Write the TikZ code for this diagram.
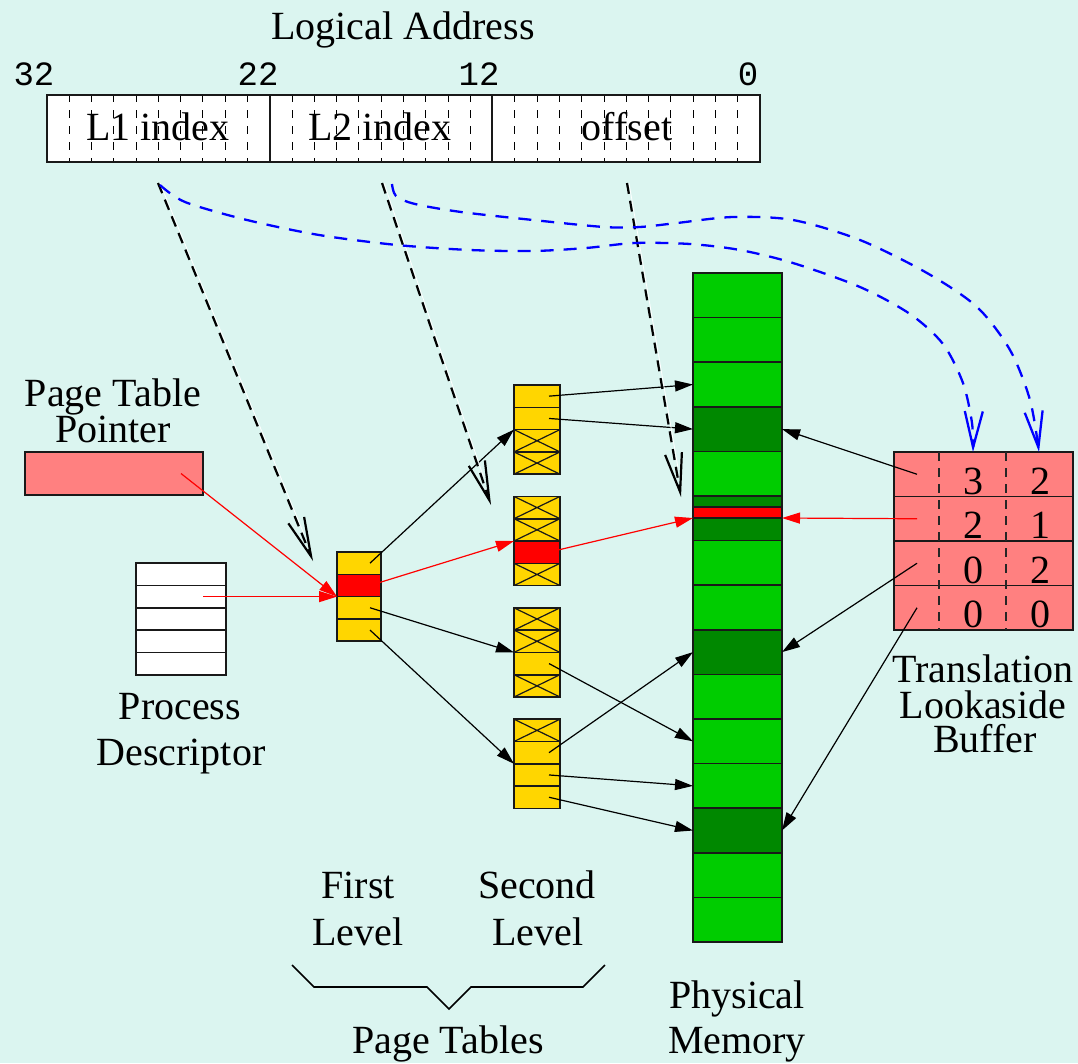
\documentclass[tikz,border=0pt]{standalone}
\usepackage{fontspec}
\setmainfont{Liberation Serif}
\setmonofont{Liberation Mono}
\usetikzlibrary{arrows.meta,calc}
\definecolor{bg}{RGB}{219,245,240}
\definecolor{lgreen}{RGB}{0,204,0}
\definecolor{dgreen}{RGB}{0,136,0}
\definecolor{ylw}{RGB}{255,214,0}
\definecolor{salmon}{RGB}{255,128,128}
\definecolor{bblue}{RGB}{0,0,255}
\begin{document}
\begin{tikzpicture}[x=1pt,y=-1pt,
  cell/.style={draw=black!90, line width=1.6pt, inner sep=0pt, outer sep=0pt, anchor=north west},
  lbl/.style={font=\fontsize{40}{46}\selectfont, inner sep=0pt, anchor=base},
  num/.style={font=\ttfamily\fontsize{34}{40}\selectfont, inner sep=0pt, anchor=base},
  arr/.style={line width=1.2pt, -{Triangle[length=18pt,width=11pt]}},
  darr/.style={line width=2.2pt, dash pattern=on 11pt off 7pt, -{Straight Barb[length=39pt,width=17pt,line width=2.2pt]}},
  shadowline/.style={white, line width=0.8pt, shorten >=30pt},
  barr/.style={bblue, line width=2.3pt, dash pattern=on 13pt off 10pt, -{Straight Barb[length=36pt,width=18pt,line width=2.3pt]}},
  tick/.style={line width=1pt, dash pattern=on 8pt off 8pt, dash phase=2pt},
  ycell/.style={cell, fill=ylw, minimum width=46pt, minimum height=22.3pt},
  rcell/.style={ycell, fill=red},
  xcell/.style={ycell, path picture={\draw[line width=1.2pt] (path picture bounding box.south west) -- (path picture bounding box.north east) (path picture bounding box.north west) -- (path picture bounding box.south east);}},
]
\fill[bg] (0,0) rectangle (1078,1063);
\useasboundingbox (0,0) rectangle (1078,1063);

% ---------- logical address ----------
\node[lbl] (la) at (403,39) {Logical Address};
\node[num] (n32) at (34,85) {32};
\node[num] (n22) at (258,85) {22};
\node[num] (n12) at (479,85) {12};
\node[num] (n0) at (748,85) {0};
\node[cell, fill=white, minimum width=223pt, minimum height=67pt] (fa) at (47,95) {};
\node[cell, fill=white, minimum width=222pt, minimum height=67pt] (fb) at (270,95) {};
\node[cell, fill=white, minimum width=268pt, minimum height=67pt] (fc) at (492,95) {};
\foreach \k in {1,...,9,11,12,...,19,21,22,...,31}
  \draw[tick] ({47+22.28*\k},96) -- ({47+22.28*\k},161);
\node[lbl] (l1) at (158,140) {L1 index};
\node[lbl] (l2) at (380,140) {L2 index};
\node[lbl] (lo) at (627,140) {offset};

% ---------- page table pointer & process descriptor ----------
\node[lbl] (ptpa) at (113,406) {Page Table};
\node[lbl] (ptpb) at (113,442) {Pointer};
\node[cell, fill=salmon, minimum width=178pt, minimum height=43pt] (ptp) at (25,452) {};
\foreach \i in {0,...,4}
  \node[cell, fill=white, minimum width=90pt, minimum height=22.4pt] (p\i) at (136,{563+22.4*\i}) {};
\node[lbl] (pda) at (180,719) {Process};
\node[lbl] (pdb) at (181,765) {Descriptor};

% ---------- first level ----------
\foreach \i/\s in {0/ycell,1/rcell,2/ycell,3/ycell}
  \node[\s, minimum width=44pt] (f\i) at (337,{552+22.3*\i}) {};

% ---------- second level ----------
\foreach \t/\tp/\a/\b/\c/\d in {1/385/ycell/ycell/xcell/xcell, 2/496.4/xcell/xcell/rcell/xcell, 3/607.8/xcell/xcell/ycell/xcell, 4/719.2/xcell/ycell/ycell/ycell}{
  \node[\a] (t\t r0) at (514,{\tp}) {};
  \node[\b] (t\t r1) at (514,{\tp+22.3}) {};
  \node[\c] (t\t r2) at (514,{\tp+44.6}) {};
  \node[\d] (t\t r3) at (514,{\tp+66.9}) {};
}
\node[lbl] (fl1) at (358,898) {First};
\node[lbl] (fl2) at (358,945) {Level};
\node[lbl] (sl1) at (537,898) {Second};
\node[lbl] (sl2) at (538,945) {Level};
\draw[line width=1.6pt] (292,965) -- (314,987) -- (427,987) -- (449,1009) -- (471,987) -- (583,987) -- (605,965);
\node[lbl] (pt) at (448,1053) {Page Tables};

% ---------- physical memory ----------
\foreach \i/\c in {0/lgreen,1/lgreen,2/lgreen,3/dgreen,4/lgreen,5/dgreen,6/lgreen,7/lgreen,8/dgreen,9/lgreen,10/lgreen,11/lgreen,12/dgreen,13/lgreen,14/lgreen}
  \node[cell, fill=\c, minimum width=89pt, minimum height=44.6pt] (m\i) at (693,{273+44.6*\i}) {};
\node[cell, fill=red, minimum width=89pt, minimum height=11pt] (m5r) at (693,507) {};
\node[lbl] (pm1) at (737,1008) {Physical};
\node[lbl] (pm2) at (737,1053) {Memory};

% ---------- TLB ----------
\foreach \i in {0,...,3}
  \node[cell, fill=salmon, minimum width=179pt, minimum height=44.5pt] (tl\i) at (894,{452+44.5*\i}) {};
\draw[line width=1.3pt, black!85, dash pattern=on 9pt off 7pt] ($(tl0.north west)+(45,0)$) -- ($(tl3.south west)+(45,0)$);
\draw[line width=1.3pt, black!85, dash pattern=on 9pt off 7pt] ($(tl0.north west)+(112,0)$) -- ($(tl3.south west)+(112,0)$);
\foreach \i/\u/\v in {0/3/2,1/2/1,2/0/2,3/0/0}{
  \node[lbl] (tu\i) at ($(tl\i.south west)+(79,-2.5)$) {\u};
  \node[lbl] (tv\i) at ($(tl\i.south west)+(146,-2.5)$) {\v};
}
\node[lbl] (tlb1) at (983,682) {Translation};
\node[lbl] (tlb2) at (983,718) {Lookaside};
\node[lbl] (tlb3) at (985,752) {Buffer};

% ---------- solid arrows ----------
\draw[arr, red] ($(ptp.center)+(67,0)$) -- (f1.south west);
\draw[arr, red] ($(p1.center)+(22,0)$) -- (f1.south west);
\draw[arr] ($(f0.center)+(11,0)$) -- (t1r1.south west);
\draw[arr, red] ($(f1.center)+(11,0)$) -- (t2r2.north west);
\draw[arr] ($(f2.center)+(11,0)$) -- (t3r2.north west);
\draw[arr] ($(f3.center)+(11,0)$) -- (t4r2.north west);
\draw[arr] ($(t1r0.center)+(12,0)$) -- (m2.west);
\draw[arr] ($(t1r1.center)+(12,0)$) -- (m3.west);
\draw[arr, red] ($(t2r2.center)+(12,0)$) -- (m5r.south west);
\draw[arr] ($(t3r2.center)+(12,0)$) -- (m10.west);
\draw[arr] ($(t4r1.center)+(12,0)$) -- (m8.west);
\draw[arr] ($(t4r2.center)+(12,0)$) -- (m11.west);
\draw[arr] ($(t4r3.center)+(12,0)$) -- (m12.west);
\draw[arr] ($(tl0.west)+(23,0)$) -- (m3.east);
\draw[arr, red] ($(tl1.west)+(23,0)$) -- (m5r.south east);
\draw[arr] ($(tl2.west)+(23,0)$) -- (m8.east);
\draw[arr] ($(tl3.west)+(23,0)$) -- (m12.east);

% ---------- dashed arrows from the address ----------
\coordinate (a1) at (158,183);
\coordinate (a2) at (382,183);
\coordinate (a3) at (627,183);
\coordinate (e1) at (313,561);
\coordinate (e2) at (491,505);
\coordinate (e3) at (681,497);
\foreach \s/\e in {a1/e1,a2/e2,a3/e3}{
  \draw[shadowline] ($(\s)+(2,0)$) -- ($(\e)+(2,0)$);
  \draw[darr] (\s) -- (\e);
}
\coordinate (b1) at (160,185);
\coordinate (b2) at (392,184);
\coordinate (c1) at ($(tl0.north west)+(79,0)$);
\coordinate (c2) at ($(tl0.north west)+(145,0)$);
\draw[barr] plot[smooth, tension=0.5] coordinates {(b1) (185,202) (247,220) (319,235) (397,245) (470,250) (533,251) (586,248) (635,243) (690,244) (740,250) (793,263) (860,287) (910,314) (943,344) (963,383) (972,423) (c1)};
\draw[barr] plot[smooth, tension=0.5] coordinates {(b2) (396,196) (415,204) (461,212) (533,220) (604,227) (640,227) (677,223) (733,217) (793,220) (860,240) (927,273) (977,307) (1010,350) (1030,400) (c2)};
\end{tikzpicture}
\end{document}
